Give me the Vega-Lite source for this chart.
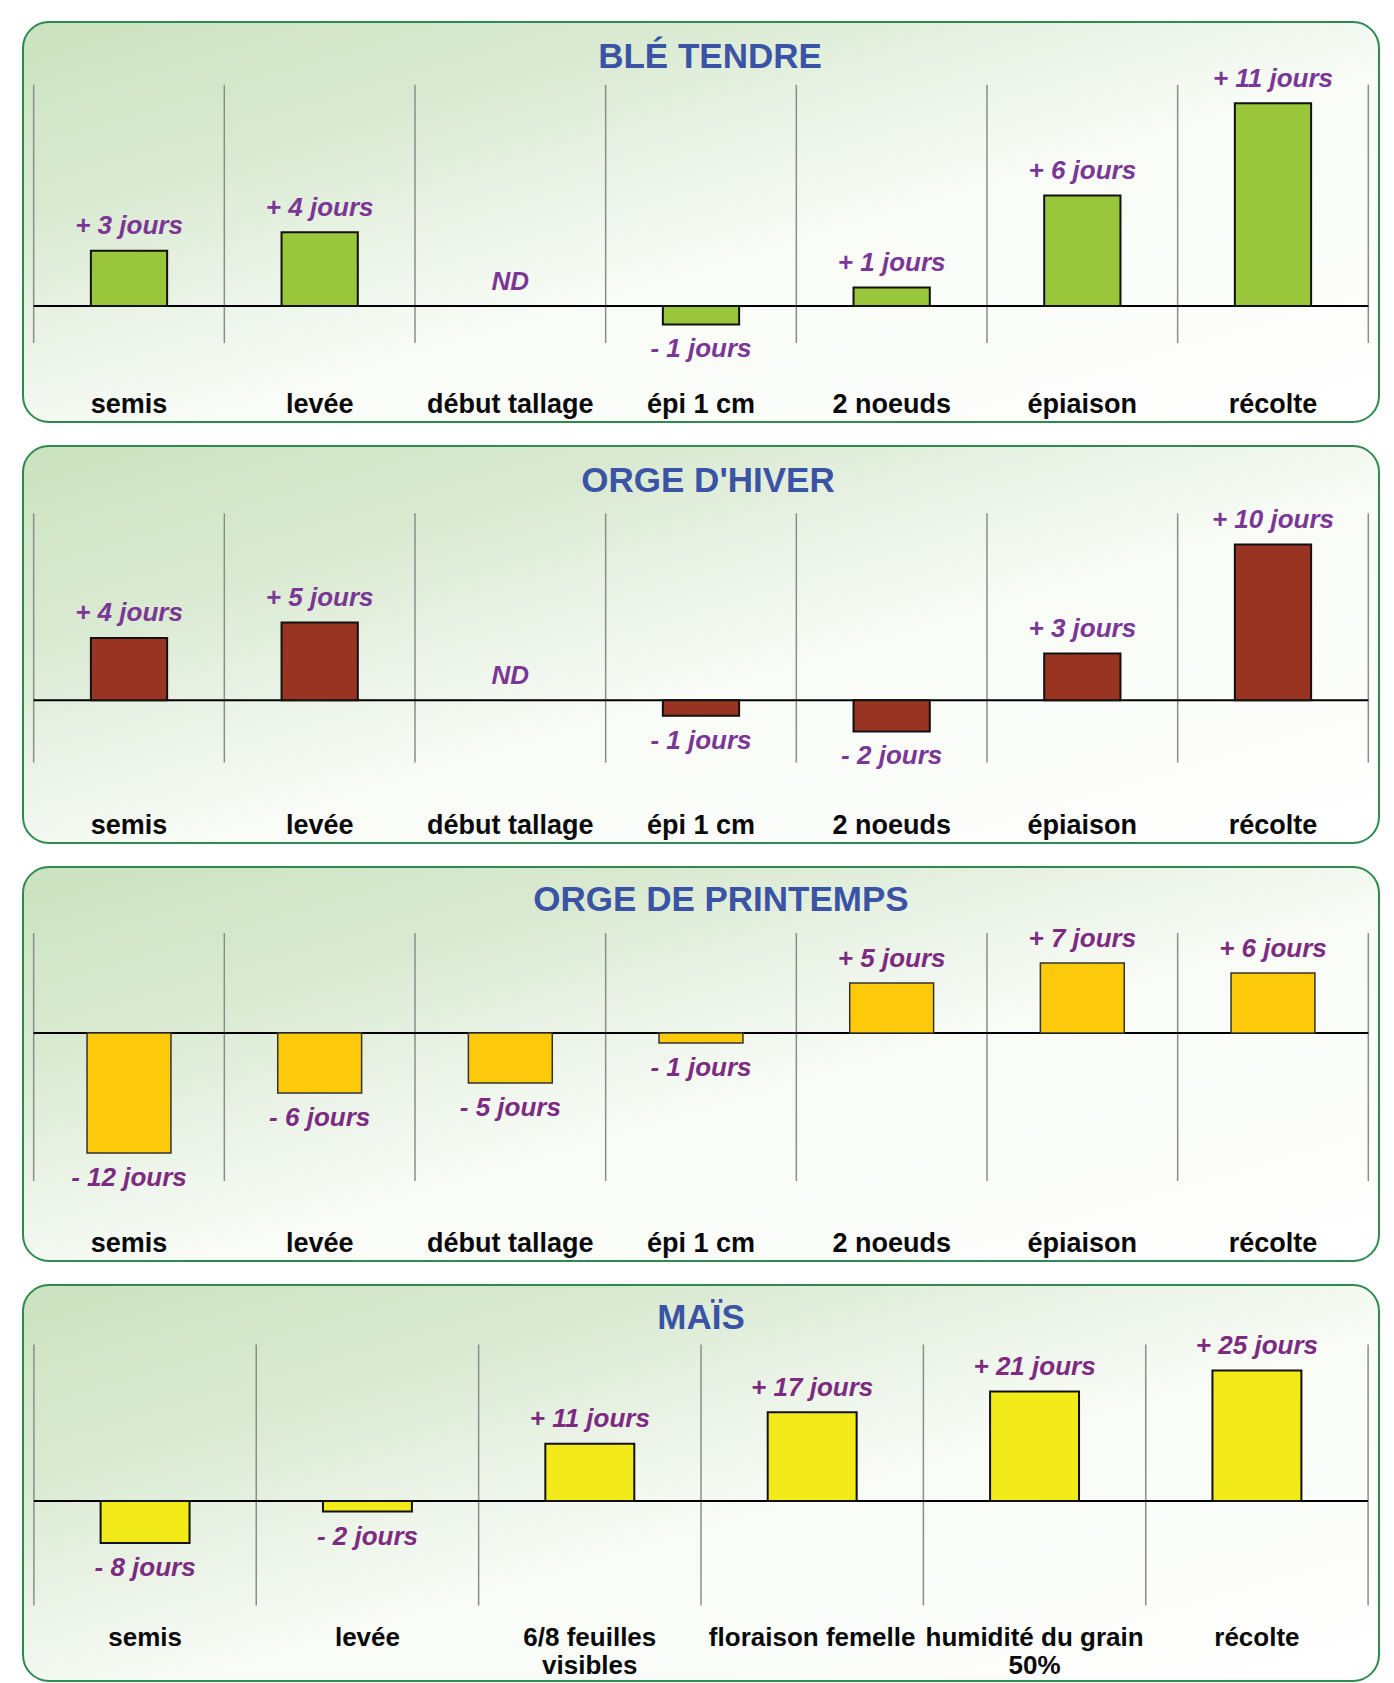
{
  "$schema": "https://vega.github.io/schema/vega-lite/v6.json",
  "padding": {"left": 22, "top": 21, "right": 0, "bottom": 0},
  "background": "white",
  "spacing": 22,
  "config": {
    "view": {"stroke": "#2E8B4F", "strokeWidth": 2, "cornerRadius": 26,
      "fill": {"gradient": "linear", "x1": 0, "y1": 0, "x2": 1, "y2": 1,
        "stops": [{"offset": 0, "color": "#CBE2BF"}, {"offset": 0.25, "color": "#DAEAD2"}, {"offset": 0.4, "color": "#EAF3E6"}, {"offset": 0.55, "color": "#F8FBF6"}, {"offset": 1, "color": "#FFFFFF"}]}},
    "title": {"font": "Liberation Sans", "fontSize": 35, "fontWeight": "bold", "color": "#3A53A4", "anchor": "middle", "baseline": "alphabetic"},
    "text": {"font": "Liberation Sans", "fontSize": 26, "fontWeight": "bold", "fontStyle": "italic", "baseline": "alphabetic", "align": "center"},
    "axisX": {"domain": false, "ticks": false, "tickSize": 0, "grid": false, "labelPadding": 0, "labelBaseline": "alphabetic", "labelAngle": 0, "labelFont": "Liberation Sans", "labelFontSize": 27, "labelFontWeight": "bold", "labelColor": "#0A0A0A", "labelLimit": 600, "labelOverlap": false, "labelLineHeight": 28, "zindex": 2}
  },
  "vconcat": [
    {
      "width": 1356, "height": 400,
      "title": {"text": "BLÉ TENDRE", "offset": -53, "dx": 9},
      "data": {"values": [
        {"stade": "semis", "value": 3, "label": "+ 3 jours"},
        {"stade": "levée", "value": 4, "label": "+ 4 jours"},
        {"stade": "début tallage", "value": null, "label": "ND"},
        {"stade": "épi 1 cm", "value": -1, "label": "- 1 jours"},
        {"stade": "2 noeuds", "value": 1, "label": "+ 1 jours"},
        {"stade": "épiaison", "value": 6, "label": "+ 6 jours"},
        {"stade": "récolte", "value": 11, "label": "+ 11 jours"}
      ]},
      "layer": [
        {"mark": {"type": "rule", "color": "#8C8C8C", "strokeWidth": 1.5},
         "encoding": {"x": {"field": "stade", "type": "nominal", "title": null, "bandPosition": 0, "scale": {"type": "band", "domain": ["semis", "levée", "début tallage", "épi 1 cm", "2 noeuds", "épiaison", "récolte"], "paddingInner": 0, "paddingOuter": 0.056}, "axis": {"orient": "bottom", "offset": -9.3, "labelExpr": "split(datum.label, '\\n')"}},
                      "y": {"datum": 12, "type": "quantitative", "scale": {"domain": [-6.29, 15.41], "nice": false, "zero": false}, "axis": null},
                      "y2": {"datum": -2}}},
        {"transform": [{"filter": "datum.stade === 'récolte'"}],
         "mark": {"type": "rule", "color": "#8C8C8C", "strokeWidth": 1.5},
         "encoding": {"x": {"field": "stade", "type": "nominal", "title": null, "bandPosition": 1, "scale": {"type": "band", "domain": ["semis", "levée", "début tallage", "épi 1 cm", "2 noeuds", "épiaison", "récolte"], "paddingInner": 0, "paddingOuter": 0.056}, "axis": {"orient": "bottom", "offset": -9.3, "labelExpr": "split(datum.label, '\\n')"}},
                      "y": {"datum": 12, "type": "quantitative", "scale": {"domain": [-6.29, 15.41], "nice": false, "zero": false}, "axis": null},
                      "y2": {"datum": -2}}},
        {"mark": {"type": "bar", "fill": "transparent", "stroke": "#000000", "strokeWidth": 2, "width": {"band": 1}},
         "encoding": {"x": {"field": "stade", "type": "nominal", "title": null, "scale": {"type": "band", "domain": ["semis", "levée", "début tallage", "épi 1 cm", "2 noeuds", "épiaison", "récolte"], "paddingInner": 0, "paddingOuter": 0.056}, "axis": {"orient": "bottom", "offset": -9.3, "labelExpr": "split(datum.label, '\\n')"}},
                      "y": {"datum": 0, "type": "quantitative", "scale": {"domain": [-6.29, 15.41], "nice": false, "zero": false}, "axis": null},
                      "y2": {"datum": 0}}},
        {"mark": {"type": "bar", "fill": "#99C63B", "stroke": "#111111", "strokeWidth": 2, "width": {"band": 0.4}},
         "encoding": {"x": {"field": "stade", "type": "nominal", "title": null, "scale": {"type": "band", "domain": ["semis", "levée", "début tallage", "épi 1 cm", "2 noeuds", "épiaison", "récolte"], "paddingInner": 0, "paddingOuter": 0.056}, "axis": {"orient": "bottom", "offset": -9.3, "labelExpr": "split(datum.label, '\\n')"}},
                      "y": {"field": "value", "type": "quantitative", "scale": {"domain": [-6.29, 15.41], "nice": false, "zero": false}, "axis": null},
                      "y2": {"datum": 0}}},
        {"transform": [{"filter": "datum.value > 0"}],
         "mark": {"type": "text", "color": "#7B3796", "dy": -16.5},
         "encoding": {"x": {"field": "stade", "type": "nominal", "title": null, "scale": {"type": "band", "domain": ["semis", "levée", "début tallage", "épi 1 cm", "2 noeuds", "épiaison", "récolte"], "paddingInner": 0, "paddingOuter": 0.056}, "axis": {"orient": "bottom", "offset": -9.3, "labelExpr": "split(datum.label, '\\n')"}},
                      "y": {"field": "value", "type": "quantitative", "scale": {"domain": [-6.29, 15.41], "nice": false, "zero": false}, "axis": null},
                      "text": {"field": "label"}}},
        {"transform": [{"filter": "datum.value < 0"}],
         "mark": {"type": "text", "color": "#7B3796", "dy": 33},
         "encoding": {"x": {"field": "stade", "type": "nominal", "title": null, "scale": {"type": "band", "domain": ["semis", "levée", "début tallage", "épi 1 cm", "2 noeuds", "épiaison", "récolte"], "paddingInner": 0, "paddingOuter": 0.056}, "axis": {"orient": "bottom", "offset": -9.3, "labelExpr": "split(datum.label, '\\n')"}},
                      "y": {"field": "value", "type": "quantitative", "scale": {"domain": [-6.29, 15.41], "nice": false, "zero": false}, "axis": null},
                      "text": {"field": "label"}}},
        {"transform": [{"filter": "datum.value === null"}],
         "mark": {"type": "text", "color": "#7B3796", "dy": -16.5},
         "encoding": {"x": {"field": "stade", "type": "nominal", "title": null, "scale": {"type": "band", "domain": ["semis", "levée", "début tallage", "épi 1 cm", "2 noeuds", "épiaison", "récolte"], "paddingInner": 0, "paddingOuter": 0.056}, "axis": {"orient": "bottom", "offset": -9.3, "labelExpr": "split(datum.label, '\\n')"}},
                      "y": {"datum": 0, "type": "quantitative", "scale": {"domain": [-6.29, 15.41], "nice": false, "zero": false}, "axis": null},
                      "text": {"field": "label"}}}
      ]
    },
    {
      "width": 1356, "height": 397,
      "title": {"text": "ORGE D'HIVER", "offset": -53, "dx": 7},
      "data": {"values": [
        {"stade": "semis", "value": 4, "label": "+ 4 jours"},
        {"stade": "levée", "value": 5, "label": "+ 5 jours"},
        {"stade": "début tallage", "value": null, "label": "ND"},
        {"stade": "épi 1 cm", "value": -1, "label": "- 1 jours"},
        {"stade": "2 noeuds", "value": -2, "label": "- 2 jours"},
        {"stade": "épiaison", "value": 3, "label": "+ 3 jours"},
        {"stade": "récolte", "value": 10, "label": "+ 10 jours"}
      ]},
      "layer": [
        {"mark": {"type": "rule", "color": "#8C8C8C", "strokeWidth": 1.5},
         "encoding": {"x": {"field": "stade", "type": "nominal", "title": null, "bandPosition": 0, "scale": {"type": "band", "domain": ["semis", "levée", "début tallage", "épi 1 cm", "2 noeuds", "épiaison", "récolte"], "paddingInner": 0, "paddingOuter": 0.056}, "axis": {"orient": "bottom", "offset": -9.3, "labelExpr": "split(datum.label, '\\n')"}},
                      "y": {"datum": 12, "type": "quantitative", "scale": {"domain": [-9.16, 16.32], "nice": false, "zero": false}, "axis": null},
                      "y2": {"datum": -4}}},
        {"transform": [{"filter": "datum.stade === 'récolte'"}],
         "mark": {"type": "rule", "color": "#8C8C8C", "strokeWidth": 1.5},
         "encoding": {"x": {"field": "stade", "type": "nominal", "title": null, "bandPosition": 1, "scale": {"type": "band", "domain": ["semis", "levée", "début tallage", "épi 1 cm", "2 noeuds", "épiaison", "récolte"], "paddingInner": 0, "paddingOuter": 0.056}, "axis": {"orient": "bottom", "offset": -9.3, "labelExpr": "split(datum.label, '\\n')"}},
                      "y": {"datum": 12, "type": "quantitative", "scale": {"domain": [-9.16, 16.32], "nice": false, "zero": false}, "axis": null},
                      "y2": {"datum": -4}}},
        {"mark": {"type": "bar", "fill": "transparent", "stroke": "#000000", "strokeWidth": 2, "width": {"band": 1}},
         "encoding": {"x": {"field": "stade", "type": "nominal", "title": null, "scale": {"type": "band", "domain": ["semis", "levée", "début tallage", "épi 1 cm", "2 noeuds", "épiaison", "récolte"], "paddingInner": 0, "paddingOuter": 0.056}, "axis": {"orient": "bottom", "offset": -9.3, "labelExpr": "split(datum.label, '\\n')"}},
                      "y": {"datum": 0, "type": "quantitative", "scale": {"domain": [-9.16, 16.32], "nice": false, "zero": false}, "axis": null},
                      "y2": {"datum": 0}}},
        {"mark": {"type": "bar", "fill": "#983421", "stroke": "#111111", "strokeWidth": 2, "width": {"band": 0.4}},
         "encoding": {"x": {"field": "stade", "type": "nominal", "title": null, "scale": {"type": "band", "domain": ["semis", "levée", "début tallage", "épi 1 cm", "2 noeuds", "épiaison", "récolte"], "paddingInner": 0, "paddingOuter": 0.056}, "axis": {"orient": "bottom", "offset": -9.3, "labelExpr": "split(datum.label, '\\n')"}},
                      "y": {"field": "value", "type": "quantitative", "scale": {"domain": [-9.16, 16.32], "nice": false, "zero": false}, "axis": null},
                      "y2": {"datum": 0}}},
        {"transform": [{"filter": "datum.value > 0"}],
         "mark": {"type": "text", "color": "#7B3796", "dy": -16.5},
         "encoding": {"x": {"field": "stade", "type": "nominal", "title": null, "scale": {"type": "band", "domain": ["semis", "levée", "début tallage", "épi 1 cm", "2 noeuds", "épiaison", "récolte"], "paddingInner": 0, "paddingOuter": 0.056}, "axis": {"orient": "bottom", "offset": -9.3, "labelExpr": "split(datum.label, '\\n')"}},
                      "y": {"field": "value", "type": "quantitative", "scale": {"domain": [-9.16, 16.32], "nice": false, "zero": false}, "axis": null},
                      "text": {"field": "label"}}},
        {"transform": [{"filter": "datum.value < 0"}],
         "mark": {"type": "text", "color": "#7B3796", "dy": 33},
         "encoding": {"x": {"field": "stade", "type": "nominal", "title": null, "scale": {"type": "band", "domain": ["semis", "levée", "début tallage", "épi 1 cm", "2 noeuds", "épiaison", "récolte"], "paddingInner": 0, "paddingOuter": 0.056}, "axis": {"orient": "bottom", "offset": -9.3, "labelExpr": "split(datum.label, '\\n')"}},
                      "y": {"field": "value", "type": "quantitative", "scale": {"domain": [-9.16, 16.32], "nice": false, "zero": false}, "axis": null},
                      "text": {"field": "label"}}},
        {"transform": [{"filter": "datum.value === null"}],
         "mark": {"type": "text", "color": "#7B3796", "dy": -16.5},
         "encoding": {"x": {"field": "stade", "type": "nominal", "title": null, "scale": {"type": "band", "domain": ["semis", "levée", "début tallage", "épi 1 cm", "2 noeuds", "épiaison", "récolte"], "paddingInner": 0, "paddingOuter": 0.056}, "axis": {"orient": "bottom", "offset": -9.3, "labelExpr": "split(datum.label, '\\n')"}},
                      "y": {"datum": 0, "type": "quantitative", "scale": {"domain": [-9.16, 16.32], "nice": false, "zero": false}, "axis": null},
                      "text": {"field": "label"}}}
      ]
    },
    {
      "width": 1356, "height": 394,
      "title": {"text": "ORGE DE PRINTEMPS", "offset": -51, "dx": 20},
      "data": {"values": [
        {"stade": "semis", "value": -12, "label": "- 12 jours"},
        {"stade": "levée", "value": -6, "label": "- 6 jours"},
        {"stade": "début tallage", "value": -5, "label": "- 5 jours"},
        {"stade": "épi 1 cm", "value": -1, "label": "- 1 jours"},
        {"stade": "2 noeuds", "value": 5, "label": "+ 5 jours"},
        {"stade": "épiaison", "value": 7, "label": "+ 7 jours"},
        {"stade": "récolte", "value": 6, "label": "+ 6 jours"}
      ]},
      "layer": [
        {"mark": {"type": "rule", "color": "#8C8C8C", "strokeWidth": 1.5},
         "encoding": {"x": {"field": "stade", "type": "nominal", "title": null, "bandPosition": 0, "scale": {"type": "band", "domain": ["semis", "levée", "début tallage", "épi 1 cm", "2 noeuds", "épiaison", "récolte"], "paddingInner": 0, "paddingOuter": 0.056}, "axis": {"orient": "bottom", "offset": -9.3, "labelExpr": "split(datum.label, '\\n')"}},
                      "y": {"datum": 10, "type": "quantitative", "scale": {"domain": [-22.8, 16.6], "nice": false, "zero": false}, "axis": null},
                      "y2": {"datum": -14.8}}},
        {"transform": [{"filter": "datum.stade === 'récolte'"}],
         "mark": {"type": "rule", "color": "#8C8C8C", "strokeWidth": 1.5},
         "encoding": {"x": {"field": "stade", "type": "nominal", "title": null, "bandPosition": 1, "scale": {"type": "band", "domain": ["semis", "levée", "début tallage", "épi 1 cm", "2 noeuds", "épiaison", "récolte"], "paddingInner": 0, "paddingOuter": 0.056}, "axis": {"orient": "bottom", "offset": -9.3, "labelExpr": "split(datum.label, '\\n')"}},
                      "y": {"datum": 10, "type": "quantitative", "scale": {"domain": [-22.8, 16.6], "nice": false, "zero": false}, "axis": null},
                      "y2": {"datum": -14.8}}},
        {"mark": {"type": "bar", "fill": "transparent", "stroke": "#000000", "strokeWidth": 2, "width": {"band": 1}},
         "encoding": {"x": {"field": "stade", "type": "nominal", "title": null, "scale": {"type": "band", "domain": ["semis", "levée", "début tallage", "épi 1 cm", "2 noeuds", "épiaison", "récolte"], "paddingInner": 0, "paddingOuter": 0.056}, "axis": {"orient": "bottom", "offset": -9.3, "labelExpr": "split(datum.label, '\\n')"}},
                      "y": {"datum": 0, "type": "quantitative", "scale": {"domain": [-22.8, 16.6], "nice": false, "zero": false}, "axis": null},
                      "y2": {"datum": 0}}},
        {"mark": {"type": "bar", "fill": "#FCCA0A", "stroke": "#333333", "strokeWidth": 1.5, "width": {"band": 0.44}},
         "encoding": {"x": {"field": "stade", "type": "nominal", "title": null, "scale": {"type": "band", "domain": ["semis", "levée", "début tallage", "épi 1 cm", "2 noeuds", "épiaison", "récolte"], "paddingInner": 0, "paddingOuter": 0.056}, "axis": {"orient": "bottom", "offset": -9.3, "labelExpr": "split(datum.label, '\\n')"}},
                      "y": {"field": "value", "type": "quantitative", "scale": {"domain": [-22.8, 16.6], "nice": false, "zero": false}, "axis": null},
                      "y2": {"datum": 0}}},
        {"transform": [{"filter": "datum.value > 0"}],
         "mark": {"type": "text", "color": "#7D2B82", "dy": -16.5},
         "encoding": {"x": {"field": "stade", "type": "nominal", "title": null, "scale": {"type": "band", "domain": ["semis", "levée", "début tallage", "épi 1 cm", "2 noeuds", "épiaison", "récolte"], "paddingInner": 0, "paddingOuter": 0.056}, "axis": {"orient": "bottom", "offset": -9.3, "labelExpr": "split(datum.label, '\\n')"}},
                      "y": {"field": "value", "type": "quantitative", "scale": {"domain": [-22.8, 16.6], "nice": false, "zero": false}, "axis": null},
                      "text": {"field": "label"}}},
        {"transform": [{"filter": "datum.value < 0"}],
         "mark": {"type": "text", "color": "#7D2B82", "dy": 33},
         "encoding": {"x": {"field": "stade", "type": "nominal", "title": null, "scale": {"type": "band", "domain": ["semis", "levée", "début tallage", "épi 1 cm", "2 noeuds", "épiaison", "récolte"], "paddingInner": 0, "paddingOuter": 0.056}, "axis": {"orient": "bottom", "offset": -9.3, "labelExpr": "split(datum.label, '\\n')"}},
                      "y": {"field": "value", "type": "quantitative", "scale": {"domain": [-22.8, 16.6], "nice": false, "zero": false}, "axis": null},
                      "text": {"field": "label"}}}
      ]
    },
    {
      "width": 1356, "height": 396,
      "title": {"text": "MAÏS", "offset": -50.5, "dx": 0},
      "data": {"values": [
        {"stade": "semis", "value": -8, "label": "- 8 jours"},
        {"stade": "levée", "value": -2, "label": "- 2 jours"},
        {"stade": "6/8 feuilles\nvisibles", "value": 11, "label": "+ 11 jours"},
        {"stade": "floraison femelle", "value": 17, "label": "+ 17 jours"},
        {"stade": "humidité du grain\n50%", "value": 21, "label": "+ 21 jours"},
        {"stade": "récolte", "value": 25, "label": "+ 25 jours"}
      ]},
      "layer": [
        {"mark": {"type": "rule", "color": "#8C8C8C", "strokeWidth": 1.5},
         "encoding": {"x": {"field": "stade", "type": "nominal", "title": null, "bandPosition": 0, "scale": {"type": "band", "domain": ["semis", "levée", "6/8 feuilles\nvisibles", "floraison femelle", "humidité du grain\n50%", "récolte"], "paddingInner": 0, "paddingOuter": 0.049}, "axis": {"orient": "bottom", "offset": -35.7, "labelFontSize": 26, "labelExpr": "split(datum.label, '\\n')"}},
                      "y": {"datum": 30, "type": "quantitative", "scale": {"domain": [-34.46, 41.4], "nice": false, "zero": false}, "axis": null},
                      "y2": {"datum": -20}}},
        {"transform": [{"filter": "datum.stade === 'récolte'"}],
         "mark": {"type": "rule", "color": "#8C8C8C", "strokeWidth": 1.5},
         "encoding": {"x": {"field": "stade", "type": "nominal", "title": null, "bandPosition": 1, "scale": {"type": "band", "domain": ["semis", "levée", "6/8 feuilles\nvisibles", "floraison femelle", "humidité du grain\n50%", "récolte"], "paddingInner": 0, "paddingOuter": 0.049}, "axis": {"orient": "bottom", "offset": -35.7, "labelFontSize": 26, "labelExpr": "split(datum.label, '\\n')"}},
                      "y": {"datum": 30, "type": "quantitative", "scale": {"domain": [-34.46, 41.4], "nice": false, "zero": false}, "axis": null},
                      "y2": {"datum": -20}}},
        {"mark": {"type": "bar", "fill": "transparent", "stroke": "#000000", "strokeWidth": 2, "width": {"band": 1}},
         "encoding": {"x": {"field": "stade", "type": "nominal", "title": null, "scale": {"type": "band", "domain": ["semis", "levée", "6/8 feuilles\nvisibles", "floraison femelle", "humidité du grain\n50%", "récolte"], "paddingInner": 0, "paddingOuter": 0.049}, "axis": {"orient": "bottom", "offset": -35.7, "labelFontSize": 26, "labelExpr": "split(datum.label, '\\n')"}},
                      "y": {"datum": 0, "type": "quantitative", "scale": {"domain": [-34.46, 41.4], "nice": false, "zero": false}, "axis": null},
                      "y2": {"datum": 0}}},
        {"mark": {"type": "bar", "fill": "#F2EA19", "stroke": "#111111", "strokeWidth": 2, "width": {"band": 0.4}},
         "encoding": {"x": {"field": "stade", "type": "nominal", "title": null, "scale": {"type": "band", "domain": ["semis", "levée", "6/8 feuilles\nvisibles", "floraison femelle", "humidité du grain\n50%", "récolte"], "paddingInner": 0, "paddingOuter": 0.049}, "axis": {"orient": "bottom", "offset": -35.7, "labelFontSize": 26, "labelExpr": "split(datum.label, '\\n')"}},
                      "y": {"field": "value", "type": "quantitative", "scale": {"domain": [-34.46, 41.4], "nice": false, "zero": false}, "axis": null},
                      "y2": {"datum": 0}}},
        {"transform": [{"filter": "datum.value > 0"}],
         "mark": {"type": "text", "color": "#7D2B82", "dy": -16.5},
         "encoding": {"x": {"field": "stade", "type": "nominal", "title": null, "scale": {"type": "band", "domain": ["semis", "levée", "6/8 feuilles\nvisibles", "floraison femelle", "humidité du grain\n50%", "récolte"], "paddingInner": 0, "paddingOuter": 0.049}, "axis": {"orient": "bottom", "offset": -35.7, "labelFontSize": 26, "labelExpr": "split(datum.label, '\\n')"}},
                      "y": {"field": "value", "type": "quantitative", "scale": {"domain": [-34.46, 41.4], "nice": false, "zero": false}, "axis": null},
                      "text": {"field": "label"}}},
        {"transform": [{"filter": "datum.value < 0"}],
         "mark": {"type": "text", "color": "#7D2B82", "dy": 33},
         "encoding": {"x": {"field": "stade", "type": "nominal", "title": null, "scale": {"type": "band", "domain": ["semis", "levée", "6/8 feuilles\nvisibles", "floraison femelle", "humidité du grain\n50%", "récolte"], "paddingInner": 0, "paddingOuter": 0.049}, "axis": {"orient": "bottom", "offset": -35.7, "labelFontSize": 26, "labelExpr": "split(datum.label, '\\n')"}},
                      "y": {"field": "value", "type": "quantitative", "scale": {"domain": [-34.46, 41.4], "nice": false, "zero": false}, "axis": null},
                      "text": {"field": "label"}}}
      ]
    }
  ]
}
